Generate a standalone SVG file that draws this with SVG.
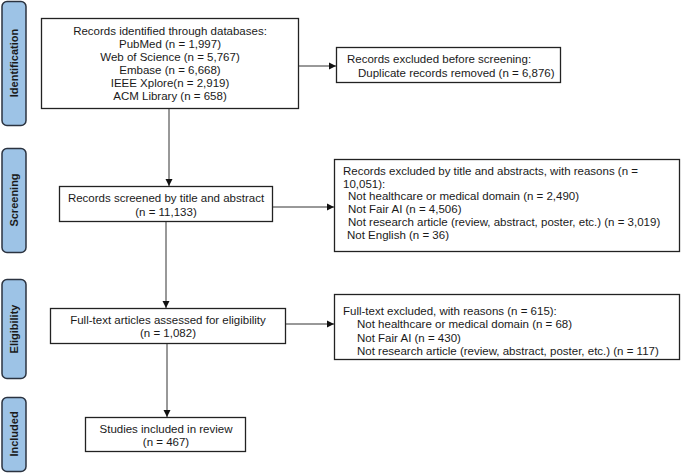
<svg xmlns="http://www.w3.org/2000/svg" width="685" height="473" viewBox="0 0 685 473">
<style>
.bar{fill:#9dc3e6;stroke:#2b3340;stroke-width:1.5}
.lab{font-family:"Liberation Sans",Arial,sans-serif;font-size:11px;font-weight:bold;fill:#1a1a1a;text-anchor:middle;dominant-baseline:central}
.box{fill:#fff;stroke:#222;stroke-width:1.3}
.t{font-family:"Liberation Sans",Arial,sans-serif;font-size:11.5px;fill:#1a1a1a;dominant-baseline:central}
.c{text-anchor:middle}
.ln{stroke:#333;stroke-width:1;fill:none;marker-end:url(#ah)}
</style>
<defs>
<marker id="ah" markerWidth="8" markerHeight="8" refX="7" refY="4" orient="auto" markerUnits="userSpaceOnUse">
<path d="M0,0.5 L7,4 L0,7.5 Z" fill="#111"/>
</marker>
</defs>
<rect width="685" height="473" fill="#fff"/>
<g id="stage-identification">
<rect class="bar" x="2" y="1.5" width="24" height="124" rx="5"/>
<text class="lab" transform="translate(14,63) rotate(-90)">Identification</text>
</g>
<g id="stage-screening">
<rect class="bar" x="2" y="148.5" width="24" height="104" rx="5"/>
<text class="lab" transform="translate(14,200) rotate(-90)">Screening</text>
</g>
<g id="stage-eligibility">
<rect class="bar" x="2" y="279.5" width="24" height="99" rx="5"/>
<text class="lab" transform="translate(14,329) rotate(-90)">Eligibility</text>
</g>
<g id="stage-included">
<rect class="bar" x="2" y="397.5" width="24" height="74" rx="5"/>
<text class="lab" transform="translate(14,434) rotate(-90)">Included</text>
</g>
<g id="identified">
<rect class="box" x="41.5" y="18.5" width="257" height="90"/>
<text class="t c" x="170" y="31">Records identified through databases:</text>
<text class="t c" x="170" y="44">PubMed (n = 1,997)</text>
<text class="t c" x="170" y="57">Web of Science (n = 5,767)</text>
<text class="t c" x="170" y="70">Embase (n = 6,668)</text>
<text class="t c" x="170" y="83">IEEE Xplore(n = 2,919)</text>
<text class="t c" x="170" y="96">ACM Library (n = 658)</text>
</g>
<g id="excluded-before">
<rect class="box" x="336.5" y="47.5" width="224" height="35"/>
<text class="t" x="347" y="59">Records excluded before screening:</text>
<text class="t" x="358" y="73">Duplicate records removed (n = 6,876)</text>
</g>
<g id="screened">
<rect class="box" x="59.5" y="186.5" width="213" height="35"/>
<text class="t c" x="166" y="198">Records screened by title and abstract</text>
<text class="t c" x="166" y="212">(n = 11,133)</text>
</g>
<g id="excluded-title">
<rect class="box" x="334.5" y="159.5" width="345" height="92"/>
<text class="t" x="343" y="171">Records excluded by title and abstracts, with reasons (n =</text>
<text class="t" x="343" y="183.5">10,051):</text>
<text class="t" x="348" y="196">Not healthcare or medical domain (n = 2,490)</text>
<text class="t" x="348" y="209">Not Fair AI (n = 4,506)</text>
<text class="t" x="348" y="222">Not research article (review, abstract, poster, etc.) (n = 3,019)</text>
<text class="t" x="347" y="235">Not English (n = 36)</text>
</g>
<g id="fulltext">
<rect class="box" x="50.5" y="308.5" width="235" height="35"/>
<text class="t c" x="168" y="320">Full-text articles assessed for eligibility</text>
<text class="t c" x="168" y="333">(n = 1,082)</text>
</g>
<g id="fulltext-excluded">
<rect class="box" x="334.5" y="294.5" width="345" height="65"/>
<text class="t" x="343" y="310.5">Full-text excluded, with reasons (n = 615):</text>
<text class="t" x="357" y="324">Not healthcare or medical domain (n = 68)</text>
<text class="t" x="357" y="337.5">Not Fair AI (n = 430)</text>
<text class="t" x="357" y="351">Not research article (review, abstract, poster, etc.) (n = 117)</text>
</g>
<g id="included">
<rect class="box" x="85.5" y="417.5" width="160" height="34"/>
<text class="t c" x="166" y="429">Studies included in review</text>
<text class="t c" x="166" y="442">(n = 467)</text>
</g>
<g id="connectors">
<line class="ln" x1="299" y1="66" x2="336" y2="66"/>
<line class="ln" x1="169" y1="109" x2="169" y2="186"/>
<line class="ln" x1="273" y1="207" x2="334" y2="207"/>
<line class="ln" x1="166" y1="222" x2="166" y2="308"/>
<line class="ln" x1="286" y1="324" x2="334" y2="324"/>
<line class="ln" x1="167" y1="344" x2="167" y2="417"/>
</g>
</svg>
